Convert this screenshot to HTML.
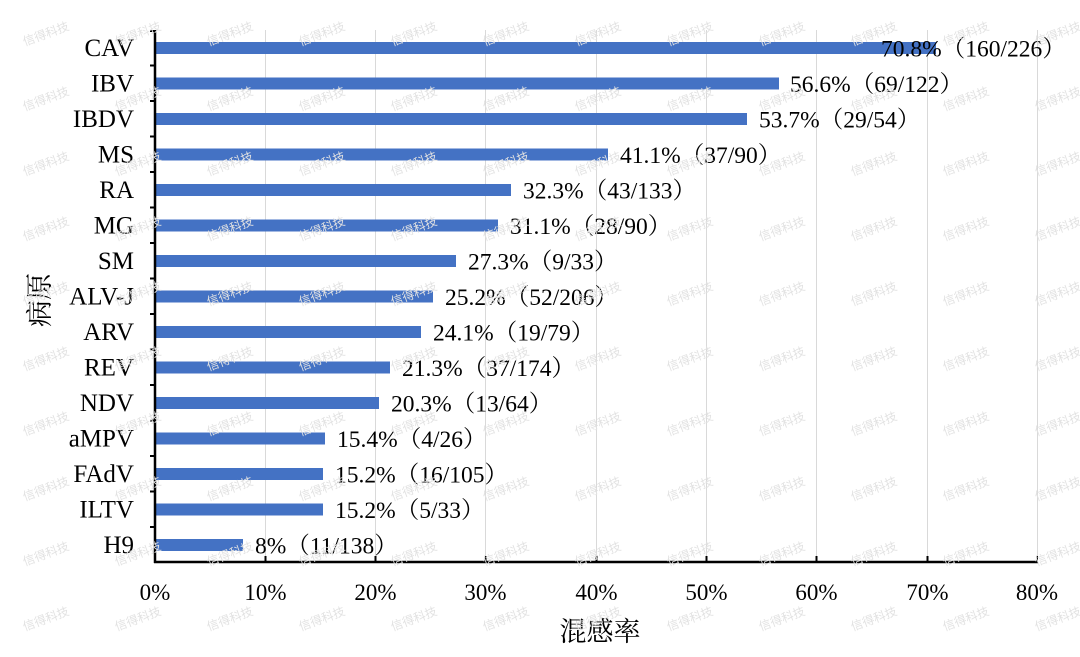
<!DOCTYPE html>
<html><head><meta charset="utf-8"><style>
html,body{margin:0;padding:0;background:#fff;}
svg{display:block;}
</style></head><body>
<svg width="1080" height="657" viewBox="0 0 1080 657" xmlns="http://www.w3.org/2000/svg">
<defs>
<pattern id="wm" x="0" y="0" width="92" height="65" patternUnits="userSpaceOnUse">
<text x="46" y="38" font-family="'Noto Sans CJK SC',sans-serif" font-size="12" fill="#e2e2e2" text-anchor="middle" transform="rotate(-20 46 34)">信得科技</text>
</pattern>
</defs>
<g stroke="#d9d9d9" stroke-width="1">
<line x1="265.5" y1="30" x2="265.5" y2="562"/><line x1="375.5" y1="30" x2="375.5" y2="562"/>
<line x1="485.5" y1="30" x2="485.5" y2="562"/><line x1="596.5" y1="30" x2="596.5" y2="562"/>
<line x1="706.5" y1="30" x2="706.5" y2="562"/><line x1="816.5" y1="30" x2="816.5" y2="562"/>
<line x1="927.5" y1="30" x2="927.5" y2="562"/><line x1="1037.5" y1="30" x2="1037.5" y2="562"/>
</g>
<g fill="#4472c4">
<rect x="155" y="42" width="781" height="12"/>
<rect x="155" y="77.5" width="624" height="12"/>
<rect x="155" y="113" width="592" height="12"/>
<rect x="155" y="148.5" width="453" height="12"/>
<rect x="155" y="184" width="356" height="12"/>
<rect x="155" y="219.5" width="343" height="12"/>
<rect x="155" y="255" width="301" height="12"/>
<rect x="155" y="290.5" width="278" height="12"/>
<rect x="155" y="326" width="266" height="12"/>
<rect x="155" y="361.5" width="235" height="12"/>
<rect x="155" y="397" width="224" height="12"/>
<rect x="155" y="432.5" width="170" height="12"/>
<rect x="155" y="468" width="168" height="12"/>
<rect x="155" y="503.5" width="168" height="12"/>
<rect x="155" y="539" width="88" height="12"/>
</g>
<g stroke="#000" stroke-width="2.5" fill="none">
<line x1="155" y1="30" x2="155" y2="563"/>
<line x1="154" y1="562" x2="1038" y2="562"/>
</g>
<g stroke="#000" stroke-width="2">
<line x1="150" y1="31" x2="155" y2="31"/><line x1="150" y1="65.5" x2="155" y2="65.5"/><line x1="150" y1="101" x2="155" y2="101"/><line x1="150" y1="136.5" x2="155" y2="136.5"/><line x1="150" y1="172" x2="155" y2="172"/><line x1="150" y1="207.5" x2="155" y2="207.5"/><line x1="150" y1="243" x2="155" y2="243"/><line x1="150" y1="278.5" x2="155" y2="278.5"/><line x1="150" y1="314" x2="155" y2="314"/><line x1="150" y1="349.5" x2="155" y2="349.5"/><line x1="150" y1="385" x2="155" y2="385"/><line x1="150" y1="420.5" x2="155" y2="420.5"/><line x1="150" y1="456" x2="155" y2="456"/><line x1="150" y1="491.5" x2="155" y2="491.5"/><line x1="150" y1="527" x2="155" y2="527"/>
<line x1="265.5" y1="556" x2="265.5" y2="562"/><line x1="375.5" y1="556" x2="375.5" y2="562"/><line x1="485.5" y1="556" x2="485.5" y2="562"/><line x1="596.5" y1="556" x2="596.5" y2="562"/><line x1="706.5" y1="556" x2="706.5" y2="562"/><line x1="816.5" y1="556" x2="816.5" y2="562"/><line x1="927.5" y1="556" x2="927.5" y2="562"/><line x1="1037" y1="556" x2="1037" y2="562"/>
</g>
<g font-family="'Liberation Serif','Noto Serif CJK SC',serif" font-size="25" fill="#000" text-anchor="end">
<text x="134" y="56">CAV</text><text x="134" y="91.5">IBV</text><text x="134" y="127">IBDV</text><text x="134" y="162.5">MS</text><text x="134" y="198">RA</text><text x="134" y="233.5">MG</text><text x="134" y="269">SM</text><text x="134" y="304.5">ALV-J</text><text x="134" y="340">ARV</text><text x="134" y="375.5">REV</text><text x="134" y="411">NDV</text><text x="134" y="446.5">aMPV</text><text x="134" y="482">FAdV</text><text x="134" y="517.5">ILTV</text><text x="134" y="553">H9</text>
</g>
<g font-family="'Liberation Serif','Noto Serif CJK SC',serif" font-size="23.5" fill="#000">
<text x="881" y="56.5">70.8%（160/226）</text>
<text x="790" y="92">56.6%（69/122）</text>
<text x="759" y="127.5">53.7%（29/54）</text>
<text x="620" y="163">41.1%（37/90）</text>
<text x="523" y="198.5">32.3%（43/133）</text>
<text x="510" y="234">31.1%（28/90）</text>
<text x="468" y="269.5">27.3%（9/33）</text>
<text x="445" y="305">25.2%（52/206）</text>
<text x="433" y="340.5">24.1%（19/79）</text>
<text x="402" y="376">21.3%（37/174）</text>
<text x="391" y="411.5">20.3%（13/64）</text>
<text x="337" y="447">15.4%（4/26）</text>
<text x="335" y="482.5">15.2%（16/105）</text>
<text x="335" y="518">15.2%（5/33）</text>
<text x="255" y="553.5">8%（11/138）</text>
</g>
<g font-family="'Liberation Serif',serif" font-size="23" fill="#000" text-anchor="middle">
<text x="155" y="600">0%</text><text x="265.5" y="600">10%</text><text x="375.5" y="600">20%</text><text x="485.5" y="600">30%</text><text x="596.5" y="600">40%</text><text x="706.5" y="600">50%</text><text x="816.5" y="600">60%</text><text x="927.5" y="600">70%</text><text x="1037" y="600">80%</text>
</g>
<text x="600" y="641" font-family="'Noto Serif CJK SC',serif" font-size="27" text-anchor="middle" fill="#000">混感率</text>
<text x="0" y="0" font-family="'Noto Serif CJK SC',serif" font-size="27" text-anchor="middle" fill="#000" transform="translate(49 300) rotate(-90)">病原</text>
<rect x="0" y="0" width="1080" height="657" fill="url(#wm)"/>
</svg>
</body></html>
